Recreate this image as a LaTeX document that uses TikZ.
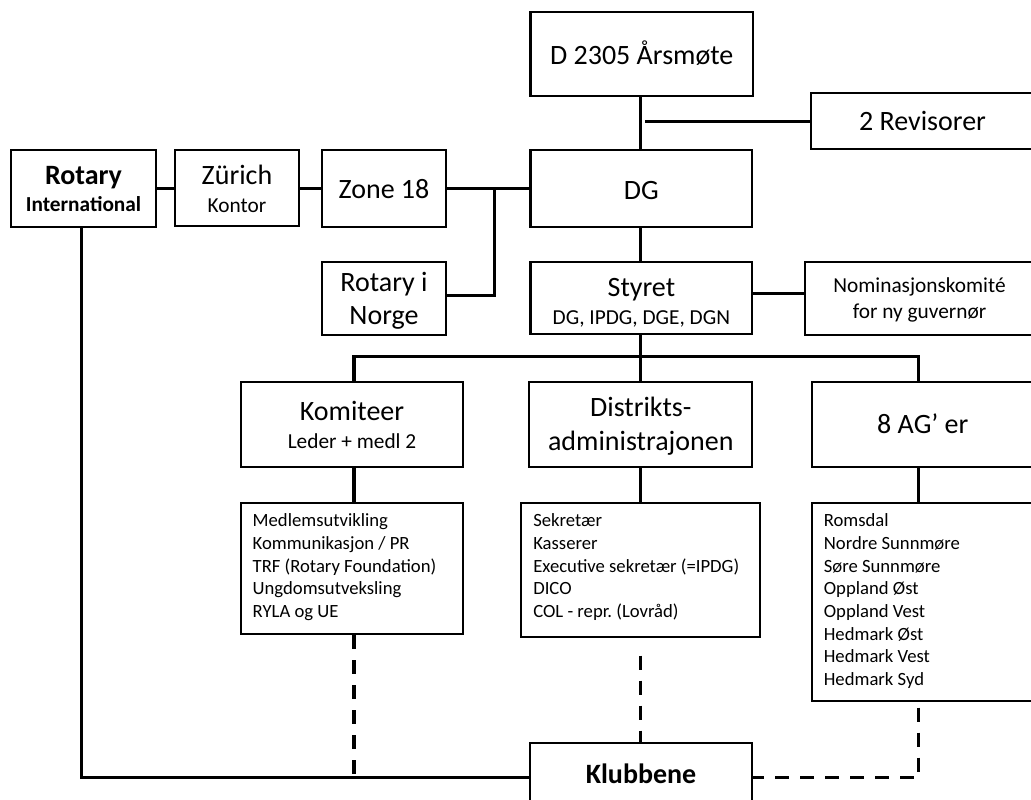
\documentclass[tikz,border=0pt]{standalone}
\usepackage{fontspec}
\setmainfont{Carlito}
\frenchspacing
\newcommand{\fontbig}{\fontsize{28}{33}\selectfont}
\newcommand{\fontsmall}{\fontsize{21.33}{26}\selectfont}
\newcommand{\fontlist}{\fontsize{18.67}{22.67}\selectfont}
% centred stack of lines: #1 strut height, #2 strut depth, #3 baseline gap, #4 rows
\newcommand{\cstack}[4]{\vbox{\baselineskip=#3pt\lineskiplimit=-1000pt\lineskip=0pt\halign{\vrule height #1pt depth #2pt width 0pt\hfil##\hfil\cr#4\crcr}}}
% left stack: #1 height, #2 depth, #3 gap, #4 width, #5 rows
\newcommand{\lstack}[5]{\vbox{\baselineskip=#3pt\lineskiplimit=-1000pt\lineskip=0pt\halign{\vrule height #1pt depth #2pt width 0pt\hbox to #4pt{##\hfil}\cr#5\crcr}}}
\tikzset{
  box/.style={draw, line width=2.2pt, rectangle, inner sep=0pt},
  conn/.style={line width=3.2pt},
  dconn/.style={line width=3.2pt, dash pattern=on 14pt off 11pt},
}
\begin{document}
\begin{tikzpicture}[x=1pt,y=-1pt]
\useasboundingbox (0,0) rectangle (1031,800);
\clip (0,0) rectangle (1031,800);
\fill[white] (0,0) rectangle (1031,800);

% top row
\node[box, minimum width=145pt, minimum height=77pt, font=\fontsmall\bfseries] (ri) at (83.5,188.5)
  {\cstack{27}{8}{27.4}{{\fontbig Rotary}\cr International}};
\node[box, minimum width=124pt, minimum height=76pt, font=\fontsmall] (zu) at (237,188)
  {\cstack{28.6}{8}{28}{{\fontbig Zürich}\cr Kontor}};
\node[box, minimum width=124pt, minimum height=77pt, font=\fontbig] (zone) at (384,188.5)
  {\cstack{27.6}{8}{0}{Zone 18}};
\node[box, minimum width=124pt, minimum height=73pt, font=\fontbig] (norge) at (384,298.5)
  {\cstack{26.3}{8}{33.3}{Rotary i\cr Norge}};

\node[box, minimum width=222.5pt, minimum height=84.3pt, font=\fontbig] (aars) at (641.7,54.2)
  {\cstack{28.2}{8}{0}{D 2305 Årsmøte}};
\node[box, minimum width=223pt, minimum height=56pt, font=\fontbig] (rev) at (922.5,121.3)
  {\cstack{26.8}{8}{0}{2 Revisorer}};
\node[box, minimum width=221.8pt, minimum height=77pt, font=\fontbig] (dg) at (641.4,188.2)
  {\cstack{30.2}{8}{0}{DG}};
\node[box, minimum width=221.8pt, minimum height=72.3pt, font=\fontsmall] (sty) at (641.4,298.2)
  {\cstack{31.6}{8}{28}{{\fontbig Styret}\cr DG, IPDG, DGE, DGN}};
\node[box, minimum width=229pt, minimum height=73.3pt, font=\fontsmall] (nom) at (919.5,298.3)
  {\cstack{22}{8}{26}{Nominasjonskomité\cr for ny guvernør}};

% second level
\node[box, minimum width=222.6pt, minimum height=84.7pt, font=\fontsmall] (kom) at (352,424.3)
  {\cstack{28.4}{8}{27.6}{{\fontbig Komiteer}\cr Leder + medl 2}};
\node[box, minimum width=223pt, minimum height=84.7pt, font=\fontbig] (dist) at (640.8,424.3)
  {\cstack{26.1}{8}{33.3}{Distrikts-\cr administrajonen}};
\node[box, minimum width=222.3pt, minimum height=84.7pt, font=\fontbig] (ag) at (922.8,424.3)
  {\cstack{26}{8}{0}{8 AG’ er}};

% lists
\node[box, minimum width=222.6pt, minimum height=131pt, font=\fontlist] (komlist) at (352,568.5)
  {\lstack{17.1}{10}{22.67}{198.6}{Medlemsutvikling\cr Kommunikasjon / PR\cr TRF (Rotary Foundation)\cr Ungdomsutveksling\cr RYLA og UE}};
\node[box, minimum width=239pt, minimum height=133.7pt, font=\fontlist] (distlist) at (640.5,569.85)
  {\lstack{17.4}{13}{22.67}{214.4}{Sekretær\cr Kasserer\cr Executive sekretær (=IPDG)\cr DICO\cr COL - repr. (Lovråd)}};
\node[box, minimum width=222.3pt, minimum height=197.7pt, font=\fontlist] (aglist) at (922.85,601.85)
  {\lstack{17.4}{9}{22.67}{198}{Romsdal\cr Nordre Sunnmøre\cr Søre Sunnmøre\cr Oppland Øst\cr Oppland Vest\cr Hedmark Øst\cr Hedmark Vest\cr Hedmark Syd}};

% Klubbene
\node[box, minimum width=222.5pt, minimum height=66.7pt, font=\fontbig\bfseries] (klub) at (641,776.65)
  {\cstack{21.3}{8}{0}{Klubbene}};

% helper coordinates
\coordinate (j) at (494.3,188.7);
\coordinate (jn) at (494.3,295.3);
\coordinate (rv) at (645,121.7);
\coordinate (sn) at (0,293.3);
\coordinate (bus) at (640.7,356.7);
\coordinate (busl) at (354,356.7);
\coordinate (busr) at (918.3,356.7);
\coordinate (dd) at (640.7,655.5);
\coordinate (ad) at (918.5,707.5);
\coordinate (kd) at (354,777.5);
\coordinate (rid) at (81.7,777.5);

% connectors
\draw[conn] (ri.east |- j) -- (zu.west |- j);
\draw[conn] (zu.east |- j) -- (zone.west |- j);
\draw[conn] (zone.east |- j) -- (dg.west |- j);
\draw[conn] (norge.east |- jn) -- (jn) -- (j);
\draw[conn] (aars.south -| bus) -- (dg.north -| bus);
\draw[conn] (rv) -- (rev.west |- rv);
\draw[conn] (dg.south -| bus) -- (sty.north -| bus);
\draw[conn] (sty.east |- sn) -- (nom.west |- sn);
\draw[conn] (sty.south -| bus) -- (bus);
\draw[conn] (kom.north -| busl) -- (busl) -- (busr) -- (ag.north -| busr);
\draw[conn] (bus) -- (dist.north -| bus);
\draw[conn] (kom.south -| busl) -- (komlist.north -| busl);
\draw[conn] (dist.south -| bus) -- (distlist.north -| bus);
\draw[conn] (ag.south -| busr) -- (aglist.north -| busr);

% bottom
\draw[conn] (ri.south -| rid) -- (rid) -- (klub.west |- rid);
\draw[dconn] (komlist.south -| kd) -- (kd);
\draw[dconn] (dd) -- (klub.north -| dd);
\draw[dconn] (ad) |- (klub.east |- rid);
\end{tikzpicture}
\end{document}
